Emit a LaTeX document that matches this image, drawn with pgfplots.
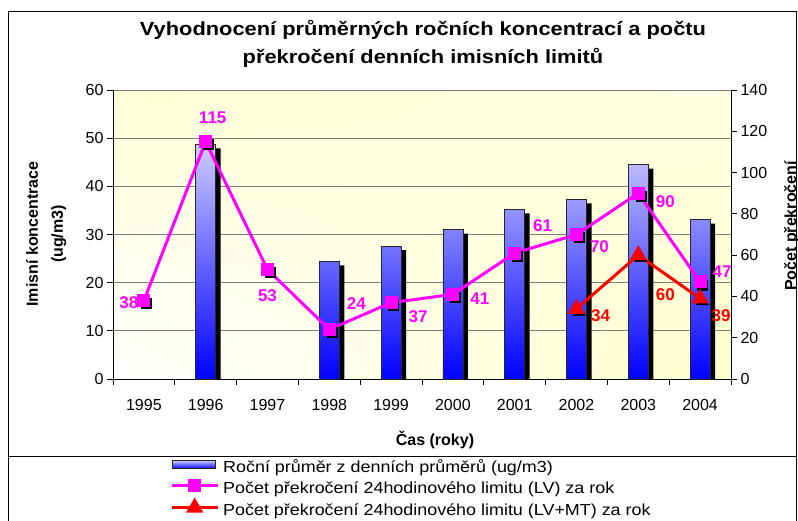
\documentclass[border=0pt]{standalone}
\usepackage{fontspec}
\setmainfont{Liberation Sans}
\newfontfamily\titlefont{Liberation Sans}[FakeStretch=1.15]
\newfontfamily\legfont{Liberation Sans}[FakeStretch=1.12]
\usepackage{pgfplots}
\pgfplotsset{compat=1.18}
\usetikzlibrary{shadings}
\definecolor{pinkc}{HTML}{FF00FF}
\definecolor{redc}{HTML}{FF0000}
\definecolor{bartop}{HTML}{CCCCFF}
\definecolor{barbot}{HTML}{0000FF}
\definecolor{gridc}{HTML}{808080}
\definecolor{bgul}{HTML}{FFFFD6}
\definecolor{bgur}{HTML}{FFFFE2}
\definecolor{bgll}{HTML}{FFFFFF}
\definecolor{bglr}{HTML}{FFFFCC}
\newcommand\tickfont{\fontsize{16}{19}\selectfont}
\newcommand\labfont{\fontsize{16}{19}\selectfont\bfseries}
\newcommand\dlab{\fontsize{17}{20}\selectfont\bfseries}
\begin{document}
\begin{tikzpicture}
\useasboundingbox (-113pt,-141pt) rectangle (685pt,379pt);
% chart frame and legend separator
\draw[black, line width=0.8pt] (-105pt,368pt) rectangle (683pt,-160pt);
\draw[black, line width=0.8pt] (-105pt,-77pt) -- (683pt,-77pt);
% titles
\node[anchor=base, font=\titlefont\bfseries\fontsize{19}{22}\selectfont] at (310pt,343pt) {Vyhodnocení průměrných ročních koncentrací a počtu};
\node[anchor=base, font=\titlefont\bfseries\fontsize{19}{22}\selectfont] at (310pt,315pt) {překročení denních imisních limitů};
\node[anchor=base, font=\labfont] at (322pt,-66pt) {Čas (roky)};
\node[anchor=base, rotate=90, font=\labfont] at (-75pt,145pt) {Imisní koncentrace};
\node[anchor=base, rotate=90, font=\labfont] at (-50pt,145pt) {(ug/m3)};
\node[anchor=base, rotate=90, font=\labfont] at (683pt,153pt) {Počet překročení};

\begin{axis}[
  at={(0pt,0pt)}, anchor=south west,
  scale only axis, width=618pt, height=289pt,
  xmin=-0.5, xmax=9.5, ymin=0, ymax=60,
  xtick={0,...,9},
  xticklabels={1995,1996,1997,1998,1999,2000,2001,2002,2003,2004},
  minor xtick={-0.5,0.5,...,9.5},
  major x tick style={draw=none},
  ytick={0,10,...,60},
  axis x line*=bottom, axis y line*=left,
  tick align=outside,
  major tick length=6pt, minor tick length=6pt,
  tick style={black, line width=0.8pt},
  axis line style={black, line width=0.8pt},
  ymajorgrids, grid style={gridc, line width=1pt},
  tick label style={font=\tickfont},
  xticklabel style={yshift=-11pt},
  /pgf/number format/assume math mode=true,
  axis background/.style={upper left=bgul, upper right=bgur, lower left=bgll, lower right=bglr},
]
% bar shadows
\addplot[ybar, bar width=20pt, bar shift=0pt, fill=black, draw=none, xshift=5pt, yshift=-4pt]
  coordinates {(1,48.7) (3,24.4) (4,27.6) (5,31.0) (6,35.2) (7,37.3) (8,44.5) (9,33.1)};
% bars
\addplot[ybar, bar width=20pt, bar shift=0pt, draw=black!85, line width=0.8pt, top color=bartop, bottom color=barbot]
  coordinates {(1,48.7) (3,24.4) (4,27.6) (5,31.0) (6,35.2) (7,37.3) (8,44.5) (9,33.1)};
\end{axis}

\begin{axis}[
  at={(0pt,0pt)}, anchor=south west,
  scale only axis, width=618pt, height=289pt,
  xmin=-0.5, xmax=9.5, ymin=0, ymax=140,
  ytick={0,20,...,140},
  axis x line=none, axis y line*=right,
  tick align=outside, major tick length=6pt,
  tick style={black, line width=0.8pt},
  axis line style={black, line width=0.8pt},
  tick label style={font=\tickfont},
  /pgf/number format/assume math mode=true,
  legend cell align=left,
  legend style={at={(rel axis cs:0.0922,-0.2800)}, anchor=north west, draw=none, fill=none,
    font=\legfont\fontsize{16}{19}\selectfont, inner sep=0pt,
    nodes={inner sep=0pt, text height=12pt, text depth=4pt},
    row sep=3.5pt,
    /tikz/every odd column/.append style={column sep=4pt}},
  legend image code/.code={\draw[#1, mark repeat=2, mark phase=2] plot coordinates {(0pt,4pt) (23pt,4pt) (46pt,4pt)};},
]
\addlegendimage{legend image code/.code={\draw[draw=black!85, line width=0.8pt, top color=bartop, bottom color=barbot] (1pt,0pt) rectangle (44pt,8pt);}}
\addlegendentry{Roční průměr z denních průměrů (ug/m3)}
% marker shadows
\addplot[only marks, mark=square*, mark size=5pt, black, xshift=2.5pt, yshift=-3pt, forget plot]
  coordinates {(0,38) (1,115) (2,53) (3,24) (4,37) (5,41) (6,61) (7,70) (8,90) (9,47)};
\addplot[pinkc, line width=3pt, mark=square*, mark size=5pt, mark options={solid, fill=pinkc}]
  coordinates {(0,38) (1,115) (2,53) (3,24) (4,37) (5,41) (6,61) (7,70) (8,90) (9,47)};
\addlegendentry{Počet překročení 24hodinového limitu (LV) za rok}
\addplot[only marks, mark=triangle*, mark size=7pt, black, xshift=2.5pt, yshift=-3pt, forget plot]
  coordinates {(7,34) (8,60) (9,39)};
\addplot[redc, line width=3pt, mark=triangle*, mark size=7pt, mark options={solid, fill=redc}]
  coordinates {(7,34) (8,60) (9,39)};
\addlegendentry{Počet překročení 24hodinového limitu (LV+MT) za rok}
% data labels
\node[font=\dlab, text=pinkc, xshift=-15pt, yshift=-2pt] at (axis cs:0,38) {38};
\node[font=\dlab, text=pinkc, xshift=7pt, yshift=24pt] at (axis cs:1,115) {115};
\node[font=\dlab, text=pinkc, xshift=0pt, yshift=-26pt] at (axis cs:2,53) {53};
\node[font=\dlab, text=pinkc, xshift=27pt, yshift=26pt] at (axis cs:3,24) {24};
\node[font=\dlab, text=pinkc, xshift=27pt, yshift=-14pt] at (axis cs:4,37) {37};
\node[font=\dlab, text=pinkc, xshift=27pt, yshift=-4pt] at (axis cs:5,41) {41};
\node[font=\dlab, text=pinkc, xshift=28pt, yshift=27pt] at (axis cs:6,61) {61};
\node[font=\dlab, text=pinkc, xshift=23pt, yshift=-12pt] at (axis cs:7,70) {70};
\node[font=\dlab, text=pinkc, xshift=27pt, yshift=-8pt] at (axis cs:8,90) {90};
\node[font=\dlab, text=pinkc, xshift=22pt, yshift=10pt] at (axis cs:9,47) {47};
\node[font=\dlab, text=redc, xshift=24pt, yshift=-7pt] at (axis cs:7,34) {34};
\node[font=\dlab, text=redc, xshift=27pt, yshift=-40pt] at (axis cs:8,60) {60};
\node[font=\dlab, text=redc, xshift=21pt, yshift=-17pt] at (axis cs:9,39) {39};
\end{axis}
\end{tikzpicture}
\end{document}
